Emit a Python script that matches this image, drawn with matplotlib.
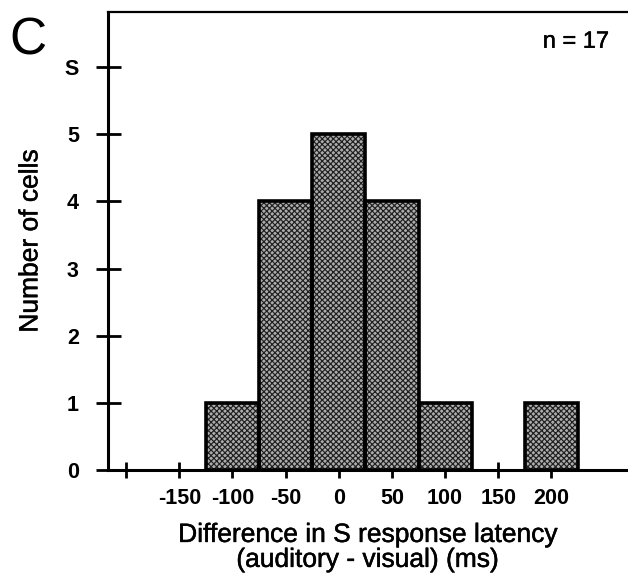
import numpy as np
import matplotlib
matplotlib.use("Agg")
import matplotlib.pyplot as plt
import matplotlib.patheffects as pe

# Histogram of response latency differences (auditory - visual)
bin_centers = [-100, -50, 0, 50, 100, 200]
cell_counts = [1, 4, 5, 4, 1, 1]
bin_width = 50

x_ticks = [-200, -150, -100, -50, 0, 50, 100, 150, 200]
x_tick_labels = ["", "-150", "-100", "-50", "0", "50", "100", "150", "200"]
y_ticks = [0, 1, 2, 3, 4, 5, 6]
y_tick_labels = ["0", "1", "2", "3", "4", "5", "S"]

plt.rcParams["font.family"] = ["Liberation Sans", "DejaVu Sans"]
plt.rcParams["hatch.linewidth"] = 0.85

# slightly heavier strokes for the label text
heavy = [pe.withStroke(linewidth=0.35, foreground="black")]

fig = plt.figure(figsize=(6.28, 5.85), dpi=100)
ax = fig.add_axes([0.172, 0.1966, 0.828, 0.7829])

# stippled fill: grey face with a fine dark cross-hatch, then a heavy outline
ax.bar(bin_centers, cell_counts, width=bin_width, color="#acacac",
       edgecolor="none", zorder=2)
ax.bar(bin_centers, cell_counts, width=bin_width, color="none",
       edgecolor="#202020", hatch="xxxxxx", linewidth=0, zorder=3)
ax.bar(bin_centers, cell_counts, width=bin_width, color="none",
       edgecolor="black", linewidth=2.6, zorder=4)

ax.set_xlim(-217, 272)
ax.set_ylim(0, 6.82)

ax.set_xticks(x_ticks)
ax.set_xticklabels(x_tick_labels, fontsize=15.5, fontweight="bold")
ax.set_yticks(y_ticks)
ax.set_yticklabels(y_tick_labels, fontsize=15.5, fontweight="bold")
ax.tick_params(axis="x", direction="inout", length=12, width=2, pad=7)
ax.tick_params(axis="y", direction="inout", length=18, width=2, pad=12)

ax.spines["right"].set_visible(False)
ax.spines["left"].set_linewidth(2.2)
ax.spines["bottom"].set_linewidth(2.2)
ax.spines["top"].set_linewidth(1.6)

xl = ax.set_xlabel("Difference in S response latency\n(auditory - visual) (ms)",
                   fontsize=19, linespacing=1.05, labelpad=10)
yl = ax.set_ylabel("Number of cells", fontsize=19, labelpad=16)
xl.set_path_effects(heavy)
yl.set_path_effects(heavy)

ax.text(0.90, 0.935, "n = 17", transform=ax.transAxes, fontsize=17,
        ha="center", va="center", path_effects=heavy)
fig.text(0.045, 0.93, "C", fontsize=37, ha="center", va="center")

fig.savefig("out.png", dpi=100)
